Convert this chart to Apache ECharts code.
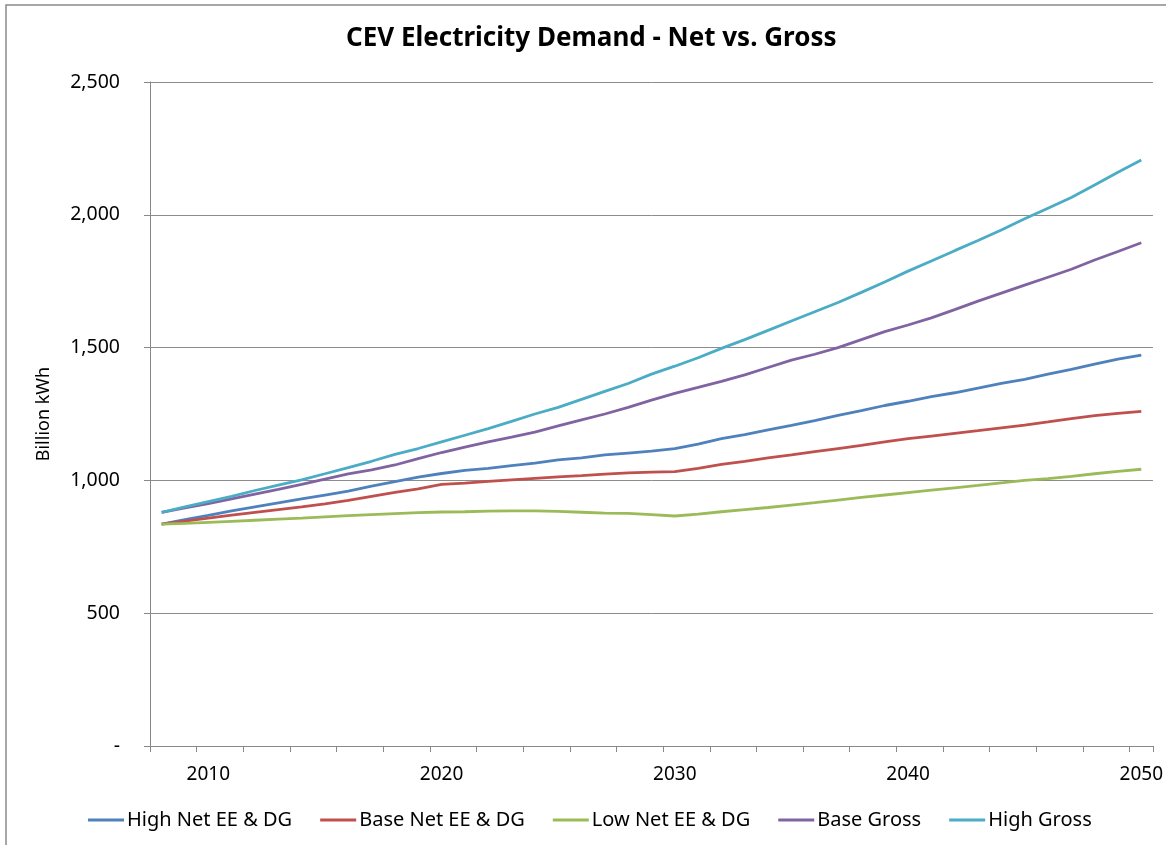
<!DOCTYPE html>
<html>
<head>
<meta charset="utf-8">
<title>CEV Electricity Demand - Net vs. Gross</title>
<script src="https://cdn.jsdelivr.net/npm/echarts@6/dist/echarts.min.js"></script>
<style>
	html, body { margin: 0; padding: 0; background: #fff; }
	#chart { width: 1166px; height: 845px; }
</style>
</head>
<body>
<div id="chart"></div>
<script>
const years = []
for (let y = 2008; y <= 2050; y++) years.push(String(y))

const seriesNames = ['High Net EE & DG', 'Base Net EE & DG', 'Low Net EE & DG', 'Base Gross', 'High Gross']
const seriesColors = ['#4F81BD', '#C0504D', '#9BBB59', '#8064A2', '#4BACC6']

const highNet = [
	835, 852, 868, 885, 900, 915, 930, 945, 960, 978,
	995, 1012, 1026, 1038, 1045, 1056, 1065, 1077, 1085, 1096,
	1103, 1110, 1120, 1137, 1157, 1172, 1190, 1207, 1225, 1245,
	1263, 1282, 1298, 1315, 1330, 1347, 1365, 1380, 1400, 1418,
	1438, 1457, 1472
]
const baseNet = [
	835, 847, 858, 869, 880, 890, 900, 912, 925, 940,
	955, 968, 985, 990, 996, 1002, 1008, 1013, 1018, 1024,
	1028, 1031, 1033, 1045, 1060, 1072, 1085, 1096, 1108, 1120,
	1132, 1145, 1157, 1167, 1177, 1187, 1198, 1208, 1220, 1233,
	1244, 1252, 1260
]
const lowNet = [
	835, 838, 842, 846, 850, 854, 858, 863, 867, 871,
	875, 879, 881, 882, 884, 885, 885, 883, 880, 877,
	876, 871, 866, 873, 882, 890, 898, 907, 916, 926,
	936, 945, 954, 963, 972, 981, 991, 1000, 1007, 1015,
	1025, 1034, 1042
]
const baseGross = [
	880, 897, 913, 930, 948, 966, 985, 1005, 1025, 1040,
	1058, 1082, 1105, 1125, 1145, 1163, 1182, 1205, 1228, 1250,
	1275, 1302, 1328, 1350, 1373, 1397, 1425, 1453, 1475, 1500,
	1530, 1560, 1585, 1612, 1643, 1675, 1705, 1735, 1765, 1795,
	1830, 1862, 1895
]
const highGross = [
	880, 900, 920, 940, 962, 982, 1002, 1025, 1048, 1072,
	1098, 1120, 1145, 1170, 1195, 1222, 1250, 1275, 1305, 1335,
	1365, 1400, 1430, 1462, 1497, 1530, 1565, 1600, 1635, 1670,
	1708, 1747, 1788, 1826, 1865, 1903, 1943, 1985, 2025, 2065,
	2112, 2160, 2206
]

const yTicks = [0, 500, 1000, 1500, 2000, 2500]

const fontName = 'Noto Sans'

const buildChart = function(id) {
	let dom = document.getElementById(id)
	let myChart = echarts.init(dom, null, { renderer: 'canvas' })
	let allData = [highNet, baseNet, lowNet, baseGross, highGross]
	let series = []
	for (let i = 0; i < seriesNames.length; i++) {
		series.push({
			name: seriesNames[i],
			type: 'line',
			data: allData[i],
			showSymbol: false,
			symbol: 'none',
			smooth: false,
			lineStyle: {
				color: seriesColors[i],
				width: 2.8
			},
			itemStyle: {
				color: seriesColors[i]
			}
		})
	}
	let option = {
		animation: false,
		backgroundColor: '#fff',
		title: {
			text: 'CEV Electricity Demand - Net vs. Gross',
			left: 341,
			top: 21,
			textStyle: {
				fontFamily: fontName,
				fontWeight: 'bold',
				fontSize: 26,
				color: '#000'
			}
		},
		legend: {
			bottom: 10,
			left: 83,
			itemWidth: 36,
			itemHeight: 3,
			itemGap: 28,
			icon: 'rect',
			textStyle: {
				fontFamily: fontName,
				fontSize: 20,
				color: '#000',
				padding: [0, 0, 0, -2]
			},
			data: seriesNames
		},
		graphic: [{
			type: 'rect',
			silent: true,
			shape: { x: 6, y: 5, width: 1300, height: 1000 },
			style: { fill: 'none', stroke: '#8a8a8a', lineWidth: 1.5 }
		}],
		grid: {
			left: 150,
			right: 11,
			top: 82,
			bottom: 99
		},
		xAxis: {
			type: 'category',
			data: years,
			boundaryGap: true,
			axisLine: {
				show: true,
				lineStyle: { color: '#888', width: 1 }
			},
			axisTick: {
				show: true,
				length: 6,
				interval: function(index) {
					return index % 2 === 0
				},
				lineStyle: { color: '#888' }
			},
			axisLabel: {
				interval: function(index, value) {
					return Number(value) % 10 === 0
				},
				margin: 19,
				fontFamily: fontName,
				fontSize: 19,
				color: '#000'
			},
			splitLine: { show: false }
		},
		yAxis: {
			type: 'value',
			min: yTicks[0],
			max: yTicks[yTicks.length - 1],
			interval: 500,
			name: 'Billion kWh',
			nameLocation: 'middle',
			nameRotate: 90,
			nameGap: 97,
			nameTextStyle: {
				fontFamily: fontName,
				fontSize: 18,
				color: '#000'
			},
			axisLine: {
				show: true,
				lineStyle: { color: '#888', width: 1 }
			},
			axisTick: {
				show: true,
				length: 6,
				lineStyle: { color: '#888' }
			},
			axisLabel: {
				margin: 30,
				fontFamily: fontName,
				fontSize: 19.5,
				color: '#000',
				formatter: function(v) {
					if (v === 0) return '-'
					return v.toLocaleString('en-US')
				}
			},
			splitLine: {
				show: true,
				lineStyle: { color: '#8c8c8c', width: 1 }
			}
		},
		series: series
	}
	myChart.setOption(option)
	return myChart
}

buildChart('chart')
</script>
</body>
</html>
